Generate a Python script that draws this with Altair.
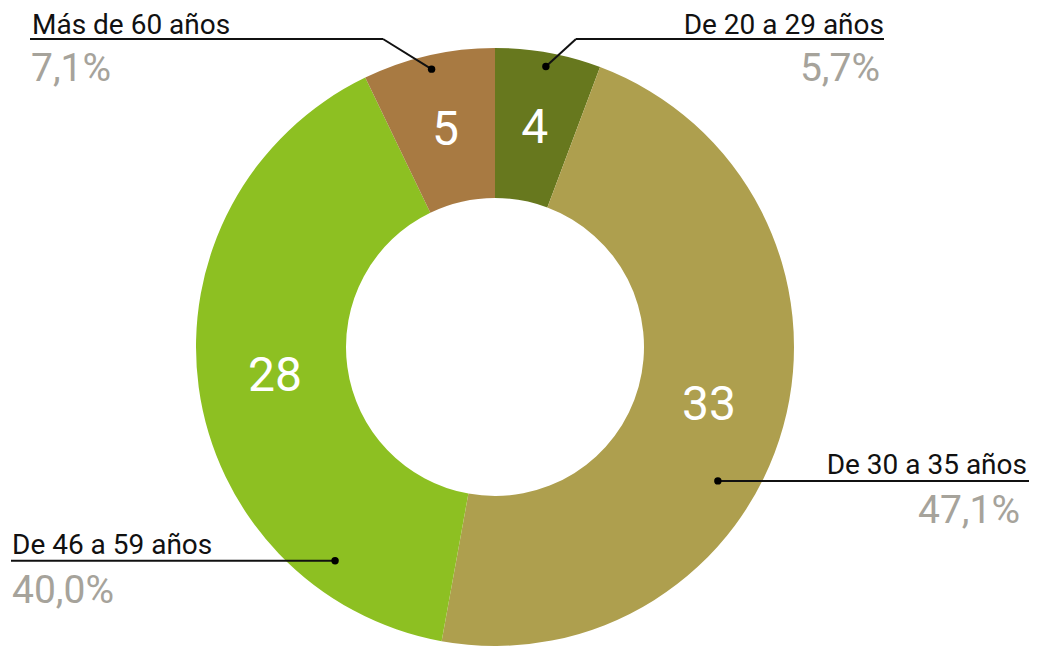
import math
import altair as alt
import pandas as pd

# ---- data ----
categories = ["De 20 a 29 años", "De 30 a 35 años", "De 46 a 59 años", "Más de 60 años"]
counts = [4, 33, 28, 5]
percent_labels = ["5,7%", "47,1%", "40,0%", "7,1%"]
colors = ["#67781e", "#ae9f4e", "#8dc022", "#a87a42"]

# ---- layout ----
W, H = 1022, 639
CX, CY = 487, 339
R_OUT, R_IN, R_NUM = 299, 149, 222
FONT = "Roboto"
TITLE_SIZE, PCT_SIZE, NUM_SIZE = 28, 39, 48

# callout placement: dot angle (None = slice middle) / radius, leader elbow, line end,
# text side, gap between title baseline and leader line
layout = {
    "De 20 a 29 años": dict(dot_a=None, dot_r=285, elbow_x=568, line_y=31, end_x=876, align="right", tx=876, px=872, gap=5),
    "De 30 a 35 años": dict(dot_a=121, dot_r=260, elbow_x=None, line_y=None, end_x=1021, align="right", tx=1019, px=1012, gap=7),
    "De 46 a 59 años": dict(dot_a=216.8, dot_r=267, elbow_x=None, line_y=None, end_x=3, align="left", tx=4, px=4, gap=7),
    "Más de 60 años": dict(dot_a=None, dot_r=285, elbow_x=375, line_y=31, end_x=22, align="left", tx=24, px=23, gap=5),
}

df = pd.DataFrame({"cat": categories, "value": counts, "pct": percent_labels,
                   "idx": list(range(len(categories)))})

total = sum(counts)
cum = 0
dots, segs, texts = [], [], []
for cat, v, p in zip(categories, counts, percent_labels):
    mid = (cum + v / 2) / total * 360
    cum += v
    L = layout[cat]
    a = math.radians(L["dot_a"] if L["dot_a"] is not None else mid)
    dx = CX + L["dot_r"] * math.sin(a)
    dy = CY - L["dot_r"] * math.cos(a)
    dots.append({"cat": cat, "x": dx, "y": dy})
    if L["elbow_x"] is not None:
        ly = L["line_y"]
        segs.append({"cat": cat, "x": dx, "y": dy, "x2": L["elbow_x"], "y2": ly})
        segs.append({"cat": cat, "x": L["elbow_x"], "y": ly, "x2": L["end_x"], "y2": ly})
    else:
        ly = dy
        segs.append({"cat": cat, "x": dx, "y": dy, "x2": L["end_x"], "y2": ly})
    texts.append({"cat": cat, "pct": p, "align": L["align"], "tx": L["tx"], "ty": ly - L["gap"],
                  "px": L["px"], "py": ly + 42})

dots_df = pd.DataFrame(dots)
segs_df = pd.DataFrame(segs)
texts_df = pd.DataFrame(texts)

xs = alt.Scale(domain=[0, W], nice=False, zero=False)
ys = alt.Scale(domain=[0, H], nice=False, zero=False, reverse=True)

base = alt.Chart(df)
arcs = base.mark_arc(innerRadius=R_IN, outerRadius=R_OUT, stroke=None).encode(
    theta=alt.Theta("value:Q", stack=True),
    order=alt.Order("idx:Q"),
    color=alt.Color("cat:N", scale=alt.Scale(domain=categories, range=colors), legend=None),
    x=alt.value(CX), y=alt.value(CY),
)
nums = base.mark_text(radius=R_NUM, font=FONT, fontSize=NUM_SIZE, color="white",
                      baseline="middle", align="center").encode(
    theta=alt.Theta("value:Q", stack=True),
    order=alt.Order("idx:Q"),
    text=alt.Text("value:Q"),
    x=alt.value(CX), y=alt.value(CY),
)

lines = alt.Chart(segs_df).mark_rule(color="#111111", strokeWidth=2).encode(
    x=alt.X("x:Q", scale=xs, axis=None), y=alt.Y("y:Q", scale=ys, axis=None),
    x2="x2:Q", y2="y2:Q",
)
pts = alt.Chart(dots_df).mark_circle(color="#000000", size=55, opacity=1).encode(
    x=alt.X("x:Q", scale=xs, axis=None), y=alt.Y("y:Q", scale=ys, axis=None),
)

layers = [arcs, nums, lines, pts]
for side in ["left", "right"]:
    sub = texts_df[texts_df["align"] == side]
    layers.append(alt.Chart(sub).mark_text(align=side, baseline="alphabetic", font=FONT,
                                           fontSize=TITLE_SIZE, color="#111111").encode(
        x=alt.X("tx:Q", scale=xs, axis=None), y=alt.Y("ty:Q", scale=ys, axis=None),
        text="cat:N"))
    layers.append(alt.Chart(sub).mark_text(align=side, baseline="alphabetic", font=FONT,
                                           fontSize=PCT_SIZE, color="#a6a39b").encode(
        x=alt.X("px:Q", scale=xs, axis=None), y=alt.Y("py:Q", scale=ys, axis=None),
        text="pct:N"))

chart = alt.layer(*layers).properties(
    width=W, height=H, padding=0, autosize=alt.AutoSizeParams(type="none")
).configure_view(stroke=None)

chart.save("out.html", embed_options={"renderer": "svg", "actions": False})
